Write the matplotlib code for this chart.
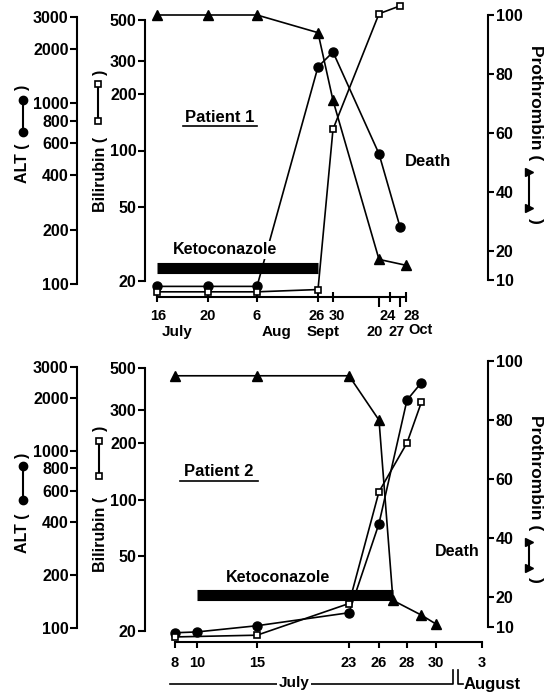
import numpy as np
import matplotlib.pyplot as plt
from matplotlib.ticker import NullLocator
from matplotlib.transforms import blended_transform_factory, ScaledTranslation

plt.rcParams['font.family'] = ['Liberation Sans', 'DejaVu Sans']
plt.rcParams['font.weight'] = 'bold'

W, H = 546, 695

# ---- Patient 1 (dates are month-day) ----
p1_alt_dates = ['07-16', '07-20', '08-06', '09-26', '09-30', '10-20', '10-27']
p1_alt = [97, 97, 97, 1590, 1920, 525, 207]
p1_bil_dates = ['07-16', '07-20', '08-06', '09-26', '09-30', '10-20', '10-27']
p1_bil = [17.5, 17.5, 17.5, 18, 130, 540, 595]
p1_pro_dates = ['07-16', '07-20', '08-06', '09-26', '09-30', '10-20', '10-28']
p1_pro = [100, 100, 100, 94, 71, 17, 15]
p1_keto = ['07-16', '09-26']
p1_ticks = ['07-16', '07-20', '08-06', '09-26', '09-30', '10-24', '10-28']
p1_tick_labels = ['16', '20', '6', '26', '30', '24', '28']
p1_ticks_low = ['10-20', '10-27']
p1_tick_labels_low = ['20', '27']

# ---- Patient 2 ----
p2_alt_dates = ['07-08', '07-10', '07-15', '07-23', '07-26', '07-28', '07-29']
p2_alt = [94, 95, 103, 122, 390, 1950, 2450]
p2_bil_dates = ['07-08', '07-15', '07-23', '07-26', '07-28', '07-29']
p2_bil = [18.6, 19, 28, 110, 200, 330]
p2_pro_dates = ['07-08', '07-15', '07-23', '07-26', '07-27', '07-29', '07-30']
p2_pro = [95, 95, 95, 80, 19, 14, 11]
p2_keto = ['07-10', '07-27']
p2_ticks = ['07-08', '07-10', '07-15', '07-23', '07-26', '07-28', '07-30', '08-03']
p2_tick_labels = ['8', '10', '15', '23', '26', '28', '30', '3']

alt_ticks = [100, 200, 400, 600, 800, 1000, 2000, 3000]
bil_ticks = [20, 50, 100, 200, 300, 500]
pro_ticks = [10, 20, 40, 60, 80, 100]

# pixel layout of the two panels (the date axis is drawn unevenly spaced)
TOP = dict(top=2, xaxis=297, left=77, bili_x=145, right=488,
           alt_px=(284, 17), bil_px=(281, 20), pro_px=(280, 15),
           scale_px=[157, 208, 257, 318, 333, 379, 390, 400, 406],
           keto_y=268, xdir='inout', xlen=7, xpad=5,
           label_dx=[1, 0, 0, -1, 4, -2, 6], low_dx=[-4, -3])
BOT = dict(top=350, xaxis=642, left=77, bili_x=145, right=488,
           alt_px=(628, 367), bil_px=(631, 368), pro_px=(627, 361),
           scale_px=[175, 197, 257, 349, 379, 407, 436, 482],
           keto_y=595, xdir='out', xlen=4.5, xpad=5.5,
           label_dx=[0] * 8, low_dx=[])


def day_num(dates):
    base = np.datetime64('2001-07-01')
    return np.array([(np.datetime64('2001-' + d) - base).astype(int) for d in dates], float)


def piecewise_scale(xd, xp):
    xd = np.asarray(xd, float)
    xp = np.asarray(xp, float)

    def interp(v, a, b):
        v = np.asarray(v, float)
        out = np.interp(v, a, b)
        lo = b[0] + (v - a[0]) * (b[1] - b[0]) / (a[1] - a[0])
        hi = b[-1] + (v - a[-1]) * (b[-1] - b[-2]) / (a[-1] - a[-2])
        return np.where(v < a[0], lo, np.where(v > a[-1], hi, out))

    return (lambda v: interp(v, xd, xp)), (lambda v: interp(v, xp, xd))


def ylims(vlo, vhi, p_lo, p_hi, top, bottom, log):
    f = np.log10 if log else (lambda v: v)
    a, b = f(vlo), f(vhi)
    k = (b - a) / (p_lo - p_hi)
    lo = a - (bottom - p_lo) * k
    hi = a + (p_lo - top) * k
    return (10 ** lo, 10 ** hi) if log else (lo, hi)


fig = plt.figure(figsize=(W / 100, H / 100), dpi=100)


def shift_labels(labels, dxs):
    for lab, dx in zip(labels, dxs):
        lab.set_transform(lab.get_transform() + ScaledTranslation(dx / 100, 0, fig.dpi_scale_trans))


def draw_panel(P, alt, bil, pro, keto, ticks, labels, low_ticks=(), low_labels=()):
    left, right, top, bottom = P['left'], P['right'], P['top'], P['xaxis']
    ax = fig.add_axes([left / W, 1 - bottom / H, (right - left) / W, (bottom - top) / H])
    axis_dates = sorted(set(ticks) | set(low_ticks))
    fwd, inv = piecewise_scale(day_num(axis_dates), P['scale_px'])
    ax.set_xscale('function', functions=(fwd, inv))
    ax.set_xlim(float(inv(left)), float(inv(right)))
    ax_b = ax.twinx()
    ax_p = ax.twinx()
    for a in (ax, ax_b, ax_p):
        a.patch.set_visible(False)
        for s in a.spines.values():
            s.set_visible(False)
            s.set_linewidth(1.5)

    # ALT axis (outer left)
    ax.set_yscale('log')
    ax.set_ylim(ylims(100, 3000, *P['alt_px'], top, bottom, True))
    ax.set_yticks(alt_ticks, labels=[str(v) for v in alt_ticks])
    ax.yaxis.set_minor_locator(NullLocator())
    ax.spines['left'].set_visible(True)
    ax.spines['left'].set_bounds(100, 3000)
    ax.tick_params(axis='y', direction='out', length=5, width=1.5, pad=1, labelsize=11.5)

    # bilirubin axis (inner left)
    ax_b.set_yscale('log')
    ax_b.set_ylim(ylims(20, 500, *P['bil_px'], top, bottom, True))
    ax_b.yaxis.set_ticks_position('left')
    ax_b.set_yticks(bil_ticks, labels=[str(v) for v in bil_ticks])
    ax_b.yaxis.set_minor_locator(NullLocator())
    ax_b.spines['left'].set_visible(True)
    ax_b.spines['left'].set_position(('axes', (P['bili_x'] - left) / (right - left)))
    ax_b.spines['left'].set_bounds(20, 500)
    ax_b.tick_params(axis='y', direction='out', length=5, width=1.5, pad=1, labelsize=11.5)

    # prothrombin axis (right)
    ax_p.set_ylim(ylims(10, 100, *P['pro_px'], top, bottom, False))
    ax_p.set_yticks(pro_ticks, labels=[str(v) for v in pro_ticks])
    ax_p.spines['right'].set_visible(True)
    ax_p.spines['right'].set_bounds(10, 100)
    ax_p.tick_params(axis='y', direction='out', length=4, width=1.5, pad=1.5, labelsize=11.5)

    # date axis
    d = day_num(axis_dates)
    ax.spines['bottom'].set_visible(True)
    ax.spines['bottom'].set_bounds(d[0], d[-1])
    ax.set_xticks(day_num(ticks), labels=labels)
    ax.tick_params(axis='x', which='major', direction=P['xdir'], length=P['xlen'],
                   width=1.5, pad=P['xpad'], labelsize=10.5)
    shift_labels(ax.get_xticklabels(), P['label_dx'])
    if low_ticks:
        ax.set_xticks(day_num(low_ticks), labels=low_labels, minor=True)
        ax.tick_params(axis='x', which='minor', direction='out', length=7,
                       width=1.5, pad=13, labelsize=10.5)
        shift_labels(ax.get_xticklabels(minor=True), P['low_dx'])
    else:
        ax.xaxis.set_minor_locator(NullLocator())

    ax.plot(day_num(alt[0]), alt[1], '-o', color='k', lw=1.2, ms=6.5, clip_on=False)
    ax_b.plot(day_num(bil[0]), bil[1], '-s', color='k', mfc='white', mec='k', mew=1.2,
              ms=5, lw=1.2, clip_on=False)
    ax_p.plot(day_num(pro[0]), pro[1], '-^', color='k', ms=7, lw=1.2, clip_on=False)

    frac = (bottom - P['keto_y']) / (bottom - top)
    tr = blended_transform_factory(ax_p.transData, ax_p.transAxes)
    ax_p.plot(day_num(keto), [frac, frac], transform=tr, color='k', lw=8,
              solid_capstyle='butt')


draw_panel(TOP, (p1_alt_dates, p1_alt), (p1_bil_dates, p1_bil), (p1_pro_dates, p1_pro),
           p1_keto, p1_ticks, p1_tick_labels, p1_ticks_low, p1_tick_labels_low)
draw_panel(BOT, (p2_alt_dates, p2_alt), (p2_bil_dates, p2_bil), (p2_pro_dates, p2_pro),
           p2_keto, p2_ticks, p2_tick_labels)

# overlay in pixel coordinates for labels and annotations
ov = fig.add_axes([0, 0, 1, 1], zorder=10)
ov.set_xlim(0, W)
ov.set_ylim(H, 0)
ov.axis('off')


def txt(x, y, s, size=11.5, **kw):
    ov.text(x, y, s, fontsize=size, ha=kw.pop('ha', 'center'), va=kw.pop('va', 'center'), **kw)


def key(x, y1, y2, marker, **kw):
    ov.plot([x, x], [y1, y2], '-', color='k', lw=1.5, marker=marker, **kw)


white = dict(facecolor='white', edgecolor='none', pad=1)

# patient 1
txt(220, 117, 'Patient 1', 12)
ov.plot([183, 257], [126, 126], color='k', lw=1.2)
txt(225, 250, 'Ketoconazole', 11.5, bbox=white)
txt(428, 162, 'Death', 12)
for s, x, y in [('July', 177, 332), ('Aug', 277, 332), ('Sept', 323, 332)]:
    txt(x, y, s, 11)
txt(408, 330, 'Oct', 10.5, ha='left')

txt(22, 183, 'ALT (', 11.5, rotation=90, va='bottom')
key(23, 132, 100, 'o', ms=6)
txt(22, 87, ')', 11.5, rotation=90)
txt(100, 212, 'Bilirubin (', 11.5, rotation=90, va='bottom')
key(98, 121, 84, 's', ms=5, mfc='white', mew=1.2)
txt(100, 72, ')', 11.5, rotation=90)
txt(535, 45, 'Prothrombin (', 12.5, rotation=270, va='top')
key(529, 172, 208, '>', ms=6)
txt(535, 221, ')', 12.5, rotation=270)

# patient 2
txt(219, 472, 'Patient 2', 12)
ov.plot([180, 258], [481, 481], color='k', lw=1.2)
txt(278, 578, 'Ketoconazole', 11.5, bbox=white)
txt(457, 552, 'Death', 11.5)
ov.plot([170, 453, 453], [684, 684, 670], color='k', lw=1.2)
txt(294, 683, 'July', 11, bbox=white)
ov.plot([458, 458, 463], [670, 684, 684], color='k', lw=1.2)
txt(464, 684, 'August', 12, ha='left')

txt(22, 553, 'ALT (', 11.5, rotation=90, va='bottom')
key(23, 500, 466, 'o', ms=6)
txt(22, 455, ')', 11.5, rotation=90)
txt(100, 572, 'Bilirubin (', 11.5, rotation=90, va='bottom')
key(99, 476, 441, 's', ms=5, mfc='white', mew=1.2)
txt(100, 428, ')', 11.5, rotation=90)
txt(535, 415, 'Prothrombin (', 12.5, rotation=270, va='top')
key(529, 542, 568, '>', ms=6)
txt(535, 580, ')', 12.5, rotation=270)

fig.savefig('out.png', dpi=100)
